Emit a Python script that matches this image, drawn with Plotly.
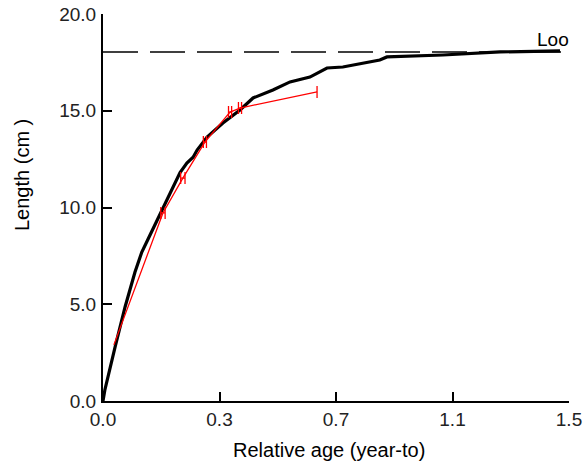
import plotly.graph_objects as go

# Growth curve (black)
curve_age = [0, 0.006, 0.039, 0.071, 0.103, 0.125, 0.146, 0.170, 0.194, 0.225, 0.248,
             0.270, 0.290, 0.303, 0.335, 0.386, 0.441, 0.483, 0.547, 0.602, 0.666,
             0.721, 0.772, 0.891, 0.914, 1.094, 1.278, 1.471]
curve_len = [0, 0.57, 2.8, 4.86, 6.67, 7.7, 8.4, 9.2, 10.04, 11.06, 11.8,
             12.3, 12.6, 12.97, 13.64, 14.37, 15.04, 15.66, 16.07, 16.49, 16.74,
             17.21, 17.26, 17.62, 17.78, 17.88, 18.04, 18.09]

# Observed mean lengths (red); first point has no error bar
obs_age = [0.035, 0.193, 0.257, 0.328, 0.409, 0.441, 0.689]
obs_len = [2.9, 9.72, 11.52, 13.38, 14.93, 15.14, 15.97]
obs_err = [0.0, 0.007, 0.007, 0.005, 0.005, 0.005, 0.0]

loo = 18.04
x_tickvals = [0, 0.375, 0.75, 1.125, 1.5]
x_ticktext = ["0.0", "0.3", "0.7", "1.1", "1.5"]
y_tickvals = [0, 5, 10, 15, 20]
y_ticktext = ["0.0", "5.0", "10.0", "15.0", "20.0"]

FONT = "Liberation Sans, Arial, sans-serif"

fig = go.Figure()
fig.add_trace(go.Scatter(x=[0, 1.5], y=[loo, loo], mode="lines",
                         line=dict(color="black", width=1.5, dash="35px,12px"),
                         hoverinfo="skip", showlegend=False))
fig.add_trace(go.Scatter(x=curve_age, y=curve_len, mode="lines",
                         line=dict(color="black", width=3.2), showlegend=False))
fig.add_trace(go.Scatter(x=obs_age, y=obs_len, mode="lines",
                         line=dict(color="#ff0000", width=1.3), showlegend=False))
fig.add_trace(go.Scatter(x=obs_age[1:], y=obs_len[1:], mode="markers",
                         marker=dict(size=1, color="#ff0000", opacity=0),
                         error_x=dict(type="data", array=obs_err[1:], visible=True,
                                      color="#ff0000", thickness=1.3, width=6),
                         showlegend=False))

fig.add_annotation(x=1.5, y=loo, xref="x", yref="y", text="Loo", showarrow=False,
                   xanchor="right", yanchor="bottom", yshift=0, xshift=2,
                   font=dict(family=FONT, size=19, color="black"))
fig.add_annotation(x=(328.5 - 103) / 466, y=(401 - 450) / 387, xref="paper", yref="paper",
                   text="Relative age (year-to)", showarrow=False,
                   xanchor="center", yanchor="middle",
                   font=dict(family=FONT, size=20, color="black"))
fig.add_annotation(x=(22 - 103) / 466, y=(401 - 175) / 387, xref="paper", yref="paper",
                   text="Length (cm )", showarrow=False, textangle=-90,
                   xanchor="center", yanchor="middle",
                   font=dict(family=FONT, size=20, color="black"))

fig.update_layout(
    width=587, height=463,
    margin=dict(l=103, r=18, t=14, b=62),
    paper_bgcolor="white", plot_bgcolor="white",
    font=dict(family=FONT, size=19, color="#222"),
    xaxis=dict(range=[0, 1.5], tickvals=x_tickvals, ticktext=x_ticktext,
               showgrid=False, zeroline=False, showline=True, linecolor="black",
               linewidth=2, ticks="inside", ticklen=9, tickwidth=1.5, tickcolor="black",
               ticklabelstandoff=0, automargin=False, ticklabeloverflow="allow"),
    yaxis=dict(range=[0, 20], tickvals=y_tickvals, ticktext=y_ticktext,
               showgrid=False, zeroline=False, showline=True, linecolor="black",
               linewidth=2, ticks="inside", ticklen=9, tickwidth=1.5, tickcolor="black",
               ticklabelstandoff=1, automargin=False, ticklabeloverflow="allow"),
)

fig.write_html("out.html", config={"displayModeBar": False},
               post_script="document.body.style.margin='0';document.body.style.overflow='hidden';")
